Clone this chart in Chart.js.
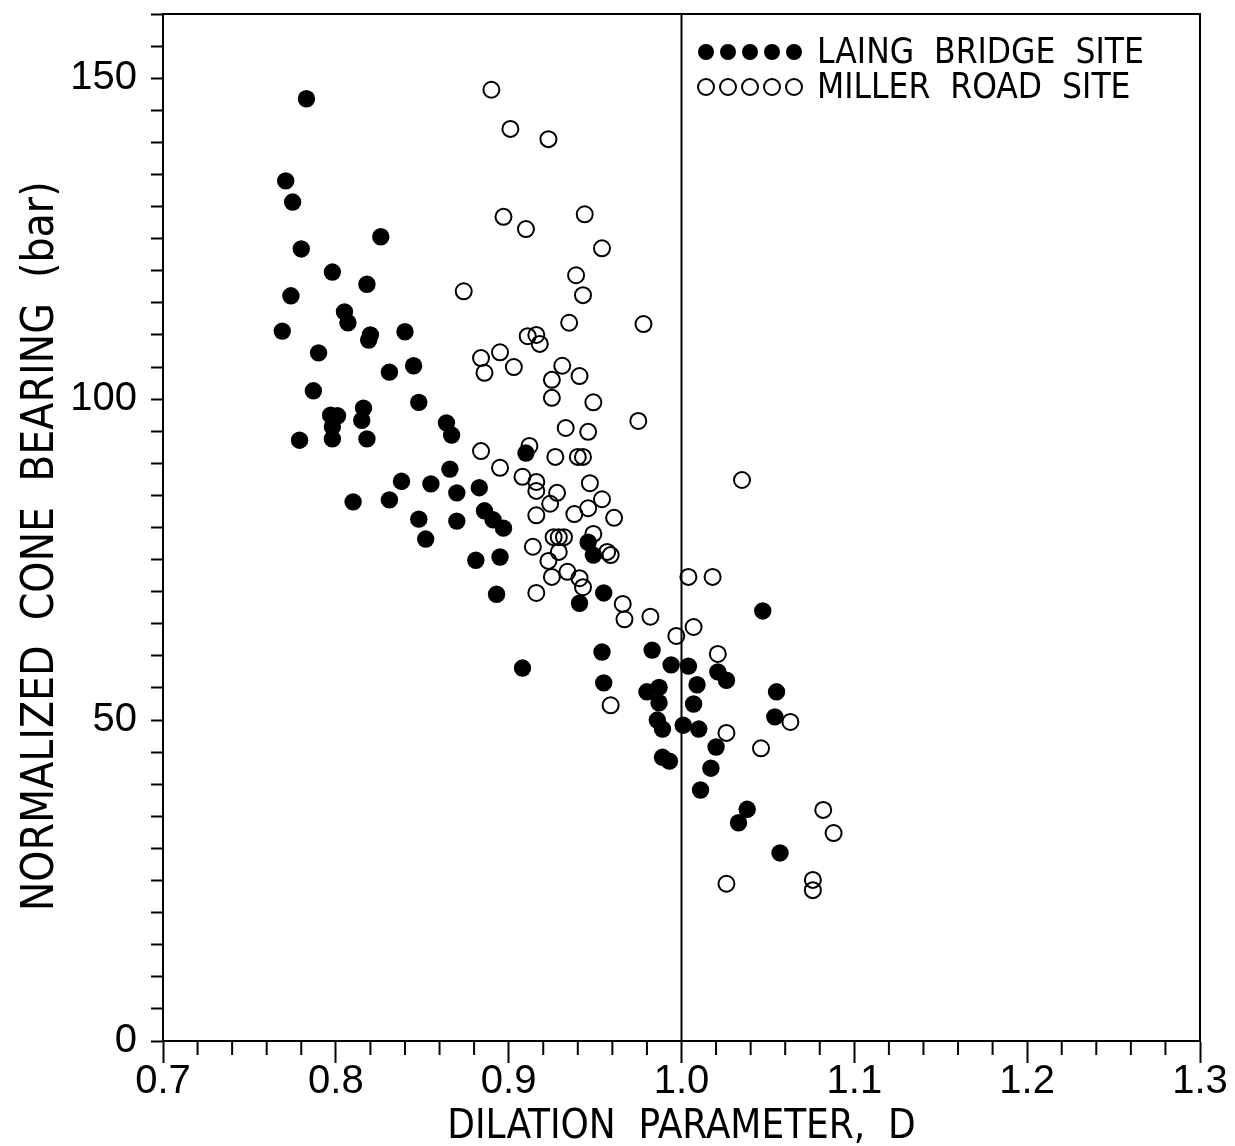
<!DOCTYPE html>
<html><head><meta charset="utf-8">
<script src="https://cdn.jsdelivr.net/npm/chart.js@4.4.0/dist/chart.umd.min.js"></script>
<style>html,body{margin:0;padding:0;background:#fff;} #wrap{width:1235px;height:1146px;position:relative;}</style>
</head><body><div id="wrap"><canvas id="c"></canvas></div>
<script>
// ---- data ----
const seriesNames = ['LAING  BRIDGE  SITE', 'MILLER  ROAD  SITE'];
const xTitle = 'DILATION  PARAMETER,  D';
const yTitle = 'NORMALIZED  CONE  BEARING  (bar)   ';
const xTickLabels = ['0.7', '0.8', '0.9', '1.0', '1.1', '1.2', '1.3'];
const yTickLabels = ['0', '50', '100', '150'];
const refLineX = 1.0;

const laingX = [0.783,0.771,0.775,0.826,0.780,0.798,0.818,0.774,0.805,0.807,0.769,0.820,0.819,0.840,0.790,0.831,0.845,0.787,0.848,0.797,0.801,0.798,0.798,0.816,0.815,0.818,0.779,0.864,0.867,0.910,0.866,0.838,0.855,0.870,0.883,0.810,0.831,0.848,0.852,0.870,0.886,0.891,0.897,0.881,0.895,0.893,0.908,0.946,0.949,0.941,0.955,0.954,0.955,0.983,0.994,1.004,0.980,0.987,0.987,1.009,1.007,1.021,1.026,1.047,1.055,1.054,0.986,0.989,1.001,1.010,1.020,0.989,0.993,1.017,1.011,1.038,1.033,1.057];
const laingY = [146.8,134.0,130.7,125.3,123.4,119.8,117.9,116.1,113.6,111.9,110.6,110.0,109.2,110.5,107.2,104.2,105.2,101.3,99.5,97.5,97.4,95.7,93.8,98.6,96.7,93.8,93.6,96.3,94.4,91.6,89.1,87.2,86.8,85.4,86.2,84.0,84.3,81.3,78.2,81.0,82.6,81.2,79.9,74.9,75.4,69.6,58.1,77.7,75.7,68.2,69.8,60.6,55.8,60.9,58.6,58.4,54.4,55.1,52.7,55.5,52.5,57.5,56.2,67.0,54.4,50.5,50.0,48.6,49.2,48.6,45.8,44.2,43.6,42.5,39.1,36.1,34.0,29.3];

const millerX = [0.890,0.901,0.923,0.897,0.944,0.910,0.954,0.874,0.939,0.943,0.935,0.978,0.911,0.916,0.918,0.884,0.895,0.886,0.903,0.931,0.925,0.941,0.925,0.949,0.975,0.933,0.946,0.884,0.912,0.927,0.940,0.943,0.895,1.035,0.908,0.916,0.916,0.928,0.947,0.954,0.946,0.924,0.961,0.916,0.938,0.926,0.929,0.932,0.949,0.957,0.959,0.914,0.929,0.923,0.934,0.925,0.941,0.943,0.916,0.966,0.967,0.982,0.997,1.007,1.004,1.018,1.021,0.959,1.026,1.046,1.063,1.082,1.088,1.026,1.076,1.076];
const millerY = [148.2,142.1,140.5,128.4,128.8,126.5,123.5,116.8,119.3,116.2,111.9,111.7,109.8,110.0,108.6,106.4,107.3,104.1,105.0,105.2,103.0,103.6,100.2,99.5,96.6,95.5,94.9,91.9,92.7,91.0,91.0,91.0,89.3,87.4,87.9,87.1,85.7,85.4,86.9,84.4,83.0,83.7,81.5,81.9,82.1,78.5,78.5,78.5,79.0,76.2,75.7,77.0,76.2,74.8,73.1,72.3,72.1,70.7,69.8,68.1,65.7,66.1,63.1,64.5,72.3,72.3,60.3,52.3,48.0,45.6,49.7,36.0,32.4,24.5,25.1,23.5];

const toPts = (xs, ys) => xs.map((v, i) => ({x: v, y: ys[i]}));
const isMajorX = v => Math.abs(v * 10 - Math.round(v * 10)) < 1e-6;

const narrow = "'Liberation Sans Narrow','DejaVu Sans Condensed','Liberation Sans',sans-serif";
const xTitleFont = {family: narrow, size: 40, lineHeight: 1};
const yTitleFont = {family: narrow, size: 44, lineHeight: 1};
const tickFont = {family: "'Liberation Sans','DejaVu Sans',sans-serif", size: 40};

const framePlugin = {
  id: 'frame',
  beforeDatasetsDraw(chart) {
    const {ctx, chartArea: a, scales: {x}} = chart;
    ctx.save();
    ctx.strokeStyle = '#000'; ctx.lineWidth = 2;
    const px = x.getPixelForValue(refLineX);
    ctx.beginPath(); ctx.moveTo(px, a.top); ctx.lineTo(px, a.bottom); ctx.stroke();
    ctx.restore();
  },
  afterDraw(chart) {
    const {ctx, chartArea: a, scales: {x}} = chart;
    ctx.save();
    ctx.strokeStyle = '#000'; ctx.lineWidth = 2;
    ctx.strokeRect(a.left, a.top, a.right - a.left, a.bottom - a.top);
    // minor x ticks (shorter)
    x.ticks.forEach(t => {
      if (!isMajorX(t.value)) {
        const p = x.getPixelForValue(t.value);
        ctx.beginPath(); ctx.moveTo(p, a.bottom); ctx.lineTo(p, a.bottom + 14); ctx.stroke();
      }
    });
    // legend
    const lx0 = a.left + 543, step = 22, textX = a.left + 654;
    const rows = [a.top + 38, a.top + 73];
    chart.data.datasets.forEach((ds, di) => {
      const yy = rows[di];
      for (let k = 0; k < 5; k++) {
        ctx.beginPath();
        ctx.arc(lx0 + k * step, yy, 8, 0, Math.PI * 2);
        if (di === 0) { ctx.fillStyle = '#000'; ctx.fill(); }
        else { ctx.lineWidth = 2; ctx.stroke(); }
      }
      ctx.fillStyle = '#000';
      ctx.font = "35px " + narrow;
      ctx.textBaseline = 'middle'; ctx.textAlign = 'left';
      ctx.fillText(ds.label, textX, yy + 2);
    });
    ctx.restore();
  }
};

new Chart(document.getElementById('c'), {
  type: 'scatter',
  data: {
    datasets: [
      {label: seriesNames[0], data: toPts(laingX, laingY), pointStyle: 'circle', pointRadius: 8.7,
       backgroundColor: '#000', borderColor: '#000', borderWidth: 0, pointHoverRadius: 8.7},
      {label: seriesNames[1], data: toPts(millerX, millerY), pointStyle: 'circle', pointRadius: 8,
       backgroundColor: 'rgba(0,0,0,0)', borderColor: '#000', borderWidth: 2, pointHoverRadius: 8}
    ]
  },
  options: {
    responsive: true, maintainAspectRatio: false, animation: false,
    layout: {padding: {left: 0, right: 35, top: 14, bottom: 0}},
    plugins: {legend: {display: false}, tooltip: {enabled: false}},
    scales: {
      x: {
        type: 'linear', position: 'bottom', min: 0.7, max: 1.3,
        afterFit: s => { s.height = 105; s.paddingLeft = 0; },
        border: {display: true, color: '#000', width: 2},
        grid: {drawOnChartArea: false, drawTicks: true, tickLength: 22, tickWidth: 2,
               tickColor: c => (c.tick && isMajorX(c.tick.value)) ? '#000' : 'rgba(0,0,0,0)'},
        ticks: {stepSize: 0.02, autoSkip: false, maxRotation: 0, color: '#000', font: tickFont, padding: -5,
                callback: v => isMajorX(v) ? xTickLabels[Math.round((v - 0.7) * 10)] : ''},
        title: {display: true, text: xTitle, color: '#000', font: xTitleFont, padding: {top: 0, bottom: -2}}
      },
      y: {
        type: 'linear', position: 'left', min: 0, max: 160,
        afterFit: s => { s.width = 163; s.paddingTop = 0; s.paddingBottom = 0; },
        border: {display: true, color: '#000', width: 2},
        grid: {drawOnChartArea: false, drawTicks: true, tickLength: 12, tickWidth: 2, tickColor: '#000'},
        ticks: {stepSize: 5, autoSkip: false, color: '#000', font: tickFont, padding: 14,
                callback: v => (v % 50 === 0) ? yTickLabels[v / 50] : ''},
        title: {display: true, text: yTitle, color: '#000', font: yTitleFont, padding: {top: 20, bottom: 0}}
      }
    }
  },
  plugins: [framePlugin]
});
</script>
</body></html>
